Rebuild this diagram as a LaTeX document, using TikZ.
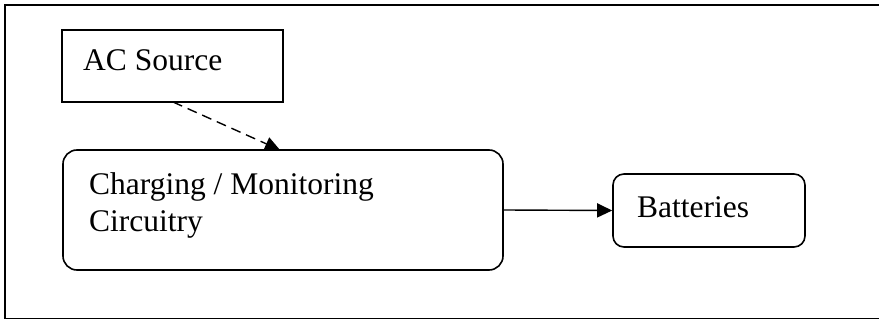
\documentclass[tikz,border=0pt]{standalone}
\usepackage{fontspec}
\setmainfont{Liberation Serif}
\usetikzlibrary{arrows.meta}
\begin{document}
\begin{tikzpicture}[x=1pt,y=-1pt,
  boxline/.style={draw=black,line width=1.6pt},
  sqbox/.style={boxline,rectangle,inner sep=0pt},
  rbox/.style={boxline,rectangle,rounded corners=14pt,inner sep=0pt},
  lbl/.style={anchor=base west,inner sep=0pt,font=\fontsize{31.5}{37}\selectfont},
  conn/.style={line width=1.4pt,-{Triangle[length=15pt,width=14pt]}}
]
\useasboundingbox (0,0) rectangle (879,320);
\clip (0,0) rectangle (879,320);
\fill[white] (0,0) rectangle (879,320);
% outer frame (right edge outside the picture)
\draw[line width=1.8pt] (900,5) -- (5,5) -- (5,318.5) -- (900,318.5);
% boxes
\node[sqbox,minimum width=221pt,minimum height=72pt] (ac) at (172.5,66) {};
\node[rbox,minimum width=440pt,minimum height=120pt] (chg) at (283,210) {};
\node[rbox,rounded corners=11pt,minimum width=192pt,minimum height=73pt] (bat) at (709,210.5) {};
% labels
\node[lbl] (acl) at (83,71) {AC Source};
\node[lbl] (chgl1) at (89,195) {Charging / Monitoring};
\node[lbl] (chgl2) at (89,232) {Circuitry};
\node[lbl] (batl) at (637,218) {Batteries};
% connectors
\coordinate (acs) at (173,102);
\coordinate (chgt) at (280,150);
\draw[conn,dash pattern=on 10pt off 6pt] (acs) -- (chgt);
\draw[conn] (chg.east) -- (bat.west);
\end{tikzpicture}
\end{document}
